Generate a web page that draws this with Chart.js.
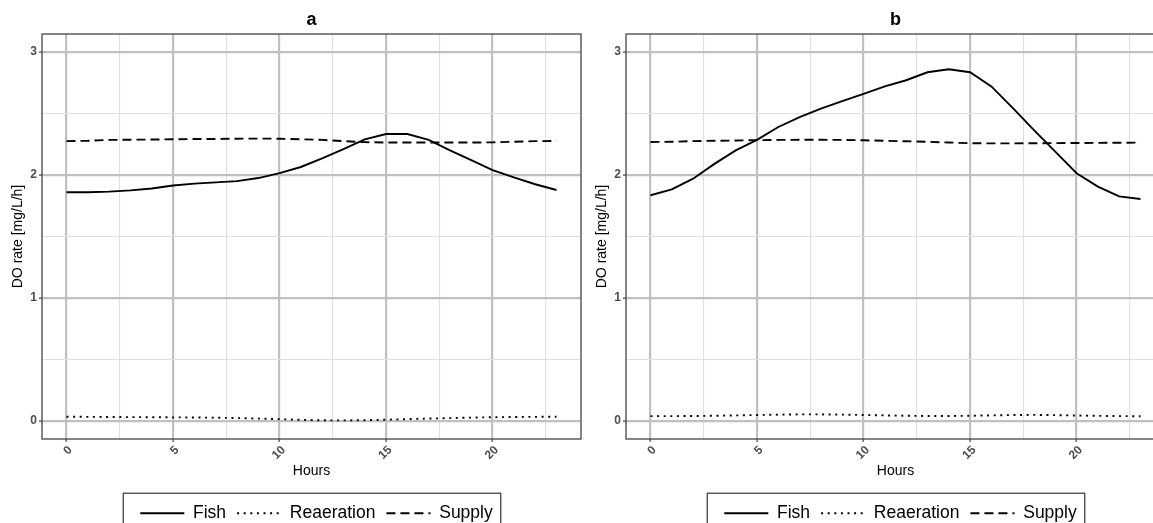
<!DOCTYPE html>
<html>
<head>
<meta charset="utf-8">
<script src="https://cdn.jsdelivr.net/npm/chart.js@4.4.1/dist/chart.umd.min.js"></script>
<style>
  html, body { margin: 0; padding: 0; background: #fff; overflow: hidden; }
  .panel { position: absolute; top: 0; }
</style>
</head>
<body>
<div class="panel" style="left:0"><canvas id="panelA" width="584" height="532"></canvas></div>
<div class="panel" style="left:584px"><canvas id="panelB" width="584" height="532"></canvas></div>
<script>
// data (DO rate in mg/L/h per hour of day)
const hours = [0, 1, 2, 3, 4, 5, 6, 7, 8, 9, 10, 11, 12, 13, 14, 15, 16, 17, 18, 19, 20, 21, 22, 23];

const fishA       = [1.86, 1.86, 1.865, 1.875, 1.89, 1.915, 1.93, 1.94, 1.95, 1.975, 2.015, 2.065, 2.135, 2.21, 2.29, 2.333, 2.333, 2.285, 2.20, 2.12, 2.04, 1.98, 1.925, 1.878];
const reaerationA = [0.035, 0.034, 0.033, 0.032, 0.031, 0.030, 0.029, 0.027, 0.024, 0.020, 0.015, 0.010, 0.006, 0.005, 0.007, 0.011, 0.016, 0.020, 0.024, 0.028, 0.031, 0.033, 0.034, 0.035];
const supplyA     = [2.275, 2.278, 2.285, 2.287, 2.288, 2.29, 2.292, 2.293, 2.295, 2.296, 2.295, 2.29, 2.285, 2.275, 2.267, 2.264, 2.264, 2.264, 2.264, 2.264, 2.265, 2.27, 2.275, 2.276];

const fishB       = [1.835, 1.883, 1.97, 2.09, 2.20, 2.285, 2.39, 2.47, 2.54, 2.60, 2.66, 2.72, 2.77, 2.835, 2.86, 2.835, 2.72, 2.545, 2.365, 2.19, 2.014, 1.905, 1.826, 1.805];
const reaerationB = [0.040, 0.040, 0.041, 0.043, 0.046, 0.049, 0.052, 0.054, 0.054, 0.052, 0.049, 0.046, 0.043, 0.041, 0.041, 0.043, 0.046, 0.049, 0.050, 0.048, 0.045, 0.042, 0.040, 0.039];
const supplyB     = [2.268, 2.27, 2.275, 2.278, 2.28, 2.283, 2.285, 2.286, 2.286, 2.285, 2.282, 2.278, 2.274, 2.27, 2.264, 2.258, 2.257, 2.257, 2.258, 2.259, 2.26, 2.261, 2.262, 2.263];

const seriesNames = ['Fish', 'Reaeration', 'Supply'];
const xTicks = [0, 5, 10, 15, 20];
const xMinor = [2.5, 7.5, 12.5, 17.5, 22.5];
const yTicks = [0, 1, 2, 3];
const yMinor = [0.5, 1.5, 2.5];

const FONT = "'Liberation Sans', Arial, sans-serif";
const dashes = [[], [2, 4.6], [9, 5]];

// cadre du panneau + cadre de la légende
const frames = {
  id: 'frames',
  afterLayout(chart) {
    // la légende ggplot est un peu décalée vers la droite
    const lg = chart.legend;
    if (lg) {
      lg.left += 5;
      lg.right += 5;
    }
  },
  afterDraw(chart) {
    const { ctx, chartArea: a } = chart;
    ctx.save();
    ctx.strokeStyle = '#444444';
    ctx.lineWidth = 1.3;
    ctx.strokeRect(a.left, a.top, a.right - a.left, a.bottom - a.top);
    const hb = chart.legend && chart.legend.legendHitBoxes;
    if (hb && hb.length) {
      const first = hb[0], last = hb[hb.length - 1];
      const cy = first.top + first.height / 2;
      const x0 = first.left - 17;
      const x1 = last.left + last.width + 8;
      ctx.strokeRect(x0, cy - 20, x1 - x0, 40);
    }
    ctx.restore();
  }
};

function gridFor(majors) {
  const isMajor = c => c.tick && majors.includes(c.tick.value);
  return {
    color: c => isMajor(c) ? '#c0c0c0' : '#e0e0e0',
    lineWidth: c => isMajor(c) ? 2.2 : 1.1,
    tickLength: 3,
    tickColor: '#333333',
    tickWidth: c => isMajor(c) ? 1.1 : 0
  };
}

function makePanel(id, title, fish, reaeration, supply) {
  const series = [fish, reaeration, supply];
  const datasets = seriesNames.map((name, k) => ({
    label: name,
    data: hours.map((h, i) => ({ x: h, y: series[k][i] })),
    borderColor: '#000',
    borderWidth: 1.9,
    borderDash: dashes[k],
    pointRadius: 0,
    tension: 0,
    fill: false
  }));

  return new Chart(document.getElementById(id), {
    type: 'line',
    data: { datasets: datasets },
    plugins: [frames],
    options: {
      responsive: false,
      animation: false,
      events: [],
      layout: { padding: { left: 0, right: 3, top: 0, bottom: 0 } },
      scales: {
        x: {
          type: 'linear',
          min: -1.15,
          max: 24.15,
          afterBuildTicks: s => { s.ticks = xTicks.concat(xMinor).sort((a, b) => a - b).map(v => ({ value: v })); },
          afterFit: s => { s.height = 54.5; },
          border: { display: false },
          grid: gridFor(xTicks),
          ticks: {
            autoSkip: false,
            minRotation: 45,
            maxRotation: 45,
            padding: 1,
            labelOffset: 4,
            color: '#4d4d4d',
            font: { family: FONT, size: 12, weight: 'bold' },
            callback: v => xTicks.includes(v) ? String(v) : ''
          },
          title: {
            display: true,
            text: 'Hours',
            color: '#000',
            font: { family: FONT, size: 14 },
            padding: { top: 0, bottom: 14 }
          }
        },
        y: {
          min: -0.146,
          max: 3.146,
          afterBuildTicks: s => { s.ticks = yTicks.concat(yMinor).sort((a, b) => a - b).map(v => ({ value: v })); },
          afterFit: s => { s.width = 42; },
          border: { display: false },
          grid: gridFor(yTicks),
          ticks: {
            autoSkip: false,
            padding: 2,
            color: '#4d4d4d',
            font: { family: FONT, size: 12, weight: 'bold' },
            callback: v => yTicks.includes(v) ? String(v) : ''
          },
          title: {
            display: true,
            text: 'DO rate [mg/L/h]',
            color: '#000',
            font: { family: FONT, size: 14 },
            padding: { top: 9.6, bottom: 0 }
          }
        }
      },
      plugins: {
        tooltip: { enabled: false },
        title: {
          display: true,
          text: title,
          fullSize: false,
          color: '#000',
          font: { family: FONT, size: 18, weight: 'bold' },
          padding: { top: 9, bottom: 3.4 }
        },
        legend: {
          display: true,
          position: 'bottom',
          fullSize: false,
          labels: {
            usePointStyle: true,
            pointStyle: 'line',
            pointStyleWidth: 44,
            padding: 11,
            color: '#000',
            font: { family: FONT, size: 17.5 },
            generateLabels: chart => chart.data.datasets.map((d, i) => ({
              text: d.label,
              fillStyle: '#000',
              strokeStyle: '#000',
              fontColor: '#000',
              lineWidth: 1.9,
              lineDash: d.borderDash,
              pointStyle: 'line',
              hidden: false,
              datasetIndex: i
            }))
          }
        }
      }
    }
  });
}

makePanel('panelA', 'a', fishA, reaerationA, supplyA);
makePanel('panelB', 'b', fishB, reaerationB, supplyB);
</script>
</body>
</html>
